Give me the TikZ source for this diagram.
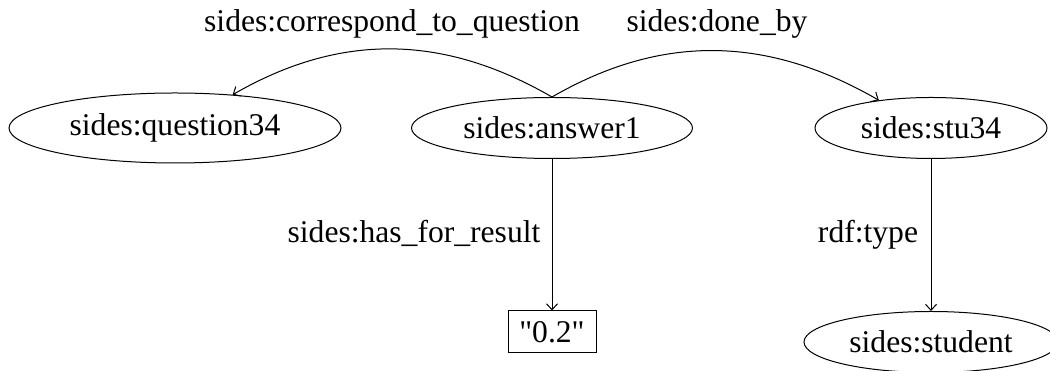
\documentclass[tikz,border=0pt]{standalone}
\usepackage{fontspec}
\setmainfont{Liberation Serif}[Ligatures=TeXOff]
\usetikzlibrary{shapes.geometric,arrows.meta}
\begin{document}
\begin{tikzpicture}[x=1pt,y=1pt,
  font=\fontsize{31.6}{37}\selectfont,
  every node/.style={inner sep=0pt},
  res/.style={ellipse,draw,line width=1pt},
  lit/.style={rectangle,draw,line width=1pt},
  lbl/.style={anchor=base},
  edge/.style={draw,line width=1pt,-{Straight Barb[length=6pt,width=11pt]}}]
\useasboundingbox (0,0) rectangle (1050,371);
\node[res,minimum width=332pt,minimum height=70pt] (q) at (175,243) {sides:question34};
\node[res,minimum width=281pt,minimum height=61pt] (a) at (552,243) {sides:answer1};
\node[res,minimum width=232pt,minimum height=61pt] (s) at (931,243) {sides:stu34};
\node[lit,minimum width=88pt,minimum height=42pt] (r) at (552,39) {"0.2"};
\node[res,minimum width=254pt,minimum height=61pt] (st) at (931,29) {sides:student};
\node[lbl] (l1) at (392,339) {sides:correspond\_to\_question};
\node[lbl] (l2) at (717,339) {sides:done\_by};
\node[lbl] (l3) at (414,128) {sides:has\_for\_result};
\node[lbl] (l4) at (868,128) {rdf:type};
\path[edge] (a.north) to[out=150,in=30] (q.30);
\path[edge] (a.north) to[out=30,in=150] (s.152);
\path[edge] (a.south) -- (r.north);
\path[edge] (s.south) -- (st.north);
\end{tikzpicture}
\end{document}
